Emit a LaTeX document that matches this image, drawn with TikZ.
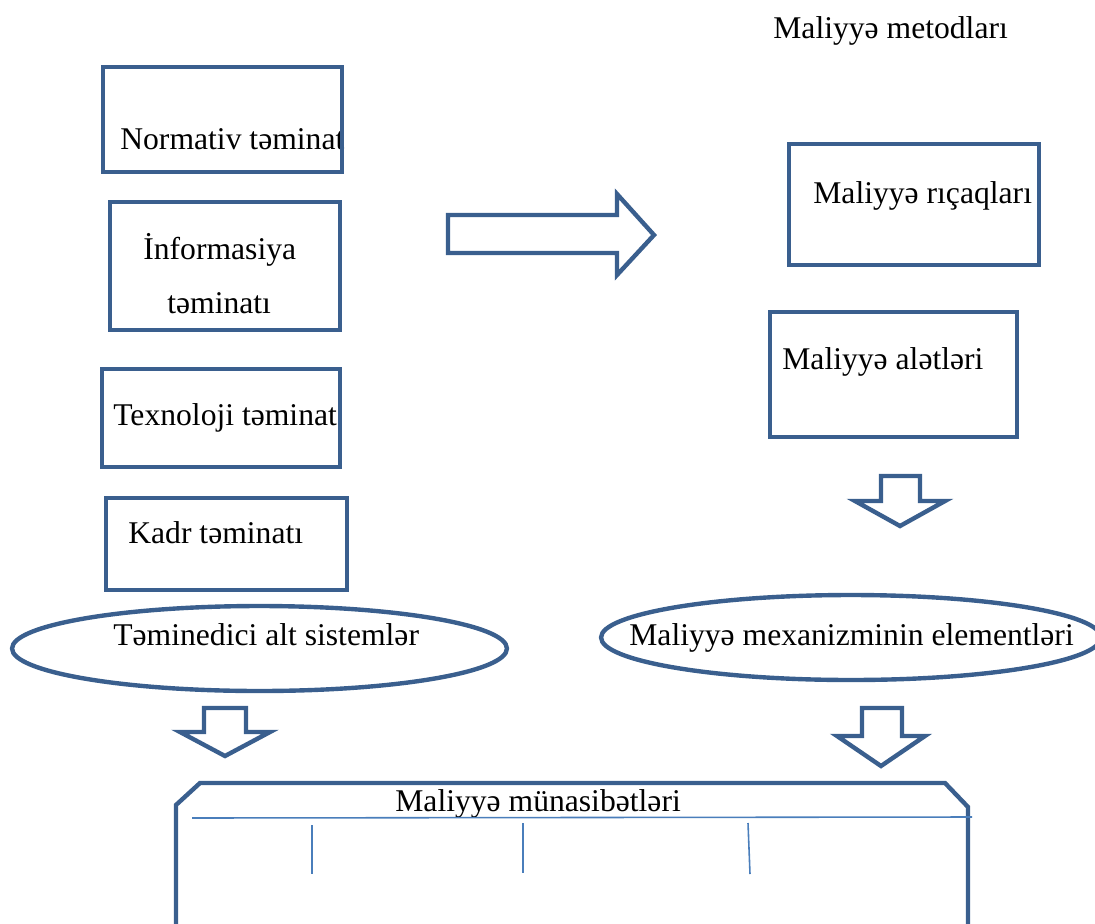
\documentclass[tikz,border=0pt]{standalone}
\usepackage{fontspec}
\setmainfont{Liberation Serif}
\usetikzlibrary{shapes.geometric}

\definecolor{frameblue}{HTML}{3A5F8E}
\definecolor{lineblue}{HTML}{4A7EBB}

\tikzset{
  box/.style={draw=frameblue, line width=2.5pt, rectangle, inner sep=0pt},
  oval/.style={draw=frameblue, line width=2.5pt, ellipse, inner sep=0pt},
  txt/.style={anchor=base west, inner sep=0pt, font=\fontsize{18}{21}\selectfont},
  blockarrow/.style={draw=frameblue, line width=2.5pt, line join=miter},
  thinline/.style={draw=lineblue, line width=0.9pt}
}

\begin{document}
\begin{tikzpicture}[x=0.02cm, y=-0.02cm]
      \useasboundingbox (0,0) rectangle (1095,923);

      % Texts
      \node[txt] (metodtxt) at (773,38) {Maliyyə metodları};
      \node[txt] (normativtxt) at (120,149) {Normativ təminat};
      \node[txt] (infotxt) at (143,259) {İnformasiya};
      \node[txt] (infotxtb) at (167,313) {təminatı};
      \node[txt] (texnotxt) at (113,425) {Texnoloji təminat};
      \node[txt] (kadrtxt) at (128,543) {Kadr təminatı};
      \node[txt] (teminedicitxt) at (113,645) {Təminedici alt sistemlər};
      \node[txt] (ricaqtxt) at (813,203) {Maliyyə rıçaqları};
      \node[txt] (alettxt) at (782,369) {Maliyyə alətləri};
      \node[txt] (mexanizmtxt) at (629,645) {Maliyyə mexanizminin elementləri};
      \node[txt] (munasibettxt) at (395,811) {Maliyyə münasibətləri};

      % Left boxes
      \node[box, minimum width=4.78cm, minimum height=2.10cm] (normativ) at (222.5,119.5) {};
      \node[box, minimum width=4.60cm, minimum height=2.56cm] (info) at (225,266) {};
      \node[box, minimum width=4.76cm, minimum height=1.96cm] (texno) at (221,418) {};
      \node[box, minimum width=4.82cm, minimum height=1.84cm] (kadr) at (226.5,544) {};

      % Right boxes
      \node[box, minimum width=5.00cm, minimum height=2.42cm] (ricaq) at (914,204.5) {};
      \node[box, minimum width=4.94cm, minimum height=2.50cm] (alet) at (893.5,374.5) {};

      % Ellipses
      \node[oval, minimum width=9.90cm, minimum height=1.70cm] (teminedici) at (259.5,648.5) {};
      \node[oval, minimum width=10.0cm, minimum height=1.70cm] (mexanizm) at (851,637.5) {};

      % Block arrows
      \draw[blockarrow] (448,215) -- (617,215) -- (617,194) -- (654,235) -- (617,275)
        -- (617,253) -- (448,253) -- cycle;
      \draw[blockarrow] (881,476) -- (920,476) -- (920,501) -- (945,501) -- (900,526)
        -- (855,501) -- (881,501) -- cycle;
      \draw[blockarrow] (204,708) -- (246,708) -- (246,732) -- (270,732) -- (225,756)
        -- (180,732) -- (204,732) -- cycle;
      \draw[blockarrow] (862,708) -- (902,708) -- (902,736) -- (925,736) -- (881,766)
        -- (837,736) -- (862,736) -- cycle;

      % Bottom frame
      \draw[blockarrow] (176,940) -- (176,805) -- (200,783) -- (945,783) -- (968,807)
        -- (968,940);
      \coordinate (hl) at (192,818);
      \coordinate (hr) at (972,817);
      \draw[thinline] (hl) -- (hr);
      \draw[thinline] (312,825) -- (312,874);
      \draw[thinline] (523,823) -- (523,873);
      \draw[thinline] (748,823) -- (750,874);
    \end{tikzpicture}
\end{document}
